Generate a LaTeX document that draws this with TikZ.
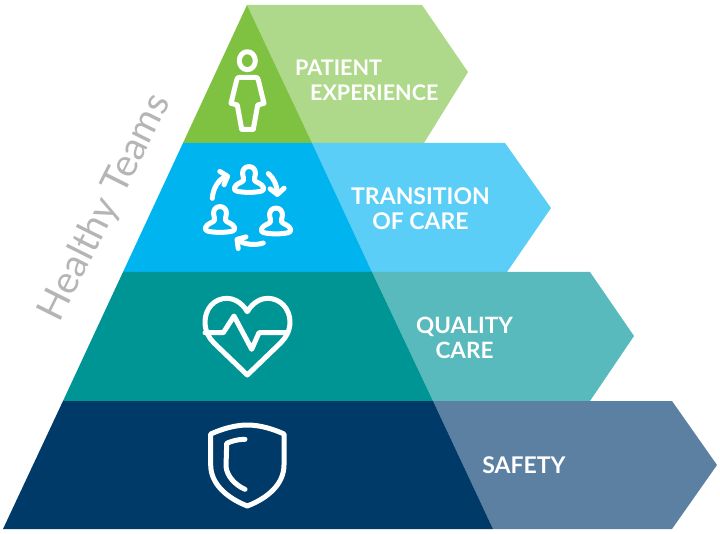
\documentclass[tikz,border=0pt]{standalone}
\usepackage{fontspec}
\setmainfont{Lato}
\usetikzlibrary{arrows.meta}
\definecolor{gA}{HTML}{7FC241}\definecolor{gB}{HTML}{AFD98A}
\definecolor{bA}{HTML}{00B4F0}\definecolor{bB}{HTML}{5ACEF6}
\definecolor{tA}{HTML}{009595}\definecolor{tB}{HTML}{58BABC}
\definecolor{nA}{HTML}{003A68}\definecolor{nB}{HTML}{5B80A2}
\definecolor{labelgray}{HTML}{B4B5B7}
\tikzset{
 lab/.style={text=white,font=\bfseries\fontsize{23}{25}\selectfont,inner sep=0pt},
 icon/.style={draw=white,line width=5pt,line join=round,line cap=round},
 cyc/.style={draw=white,line width=5pt,line cap=round,-{Straight Barb[length=6pt,width=14pt,line cap=round,round]}},
 pics/mate/.style={code={
  \draw[icon] (0,-6.4) .. controls (4,-6.4) and (6.4,-3.5) .. (6.4,0) .. controls (6.4,4) and (4.5,6) .. (5.5,7.5) .. controls (7,9.5) and (13,10.5) .. (14.5,14.5) .. controls (15.5,18) and (13,18.8) .. (0,19.5) .. controls (-13,18.8) and (-15.5,18) .. (-14.5,14.5) .. controls (-13,10.5) and (-7,9.5) .. (-5.5,7.5) .. controls (-4.5,6) and (-6.4,4) .. (-6.4,0) .. controls (-6.4,-3.5) and (-4,-6.4) .. (0,-6.4) -- cycle;
 }}
}
\begin{document}
\begin{tikzpicture}[x=1pt,y=-1pt]
\useasboundingbox (0,0) rectangle (720,534);
% chevrons
\fill[gB] (247,5) -- (422,5) -- (468,72) -- (424,143) -- (312,143) -- cycle;
\fill[bB] (312,143) -- (505,143) -- (551,208) -- (507,272) -- (372,272) -- cycle;
\fill[tB] (372,272) -- (590,272) -- (634,336) -- (590,401) -- (433,401) -- cycle;
\fill[nB] (433,401) -- (672,401) -- (717,465) -- (672,529) -- (493,529) -- cycle;
% pyramid
\fill[gA] (247,5) -- (312,143) -- (183,143) -- cycle;
\fill[bA] (183,143) -- (312,143) -- (372,272) -- (123,272) -- cycle;
\fill[tA] (123,272) -- (372,272) -- (433,401) -- (63,401) -- cycle;
\fill[nA] (63,401) -- (433,401) -- (493,529) -- (3,529) -- cycle;
% labels
\node[lab,font=\bfseries\fontsize{21.5}{25}\selectfont,align=left,anchor=west] (patient) at (295,80) {PATIENT\\\hspace*{15pt}EXPERIENCE};
\node[lab,align=center] (transition) at (420.5,209) {TRANSITION\\OF CARE};
\node[lab,font=\bfseries\fontsize{22.5}{25}\selectfont,align=center] (quality) at (464.5,337.5) {QUALITY\\CARE};
\node[lab] (safety) at (524,465.5) {SAFETY};
\node[text=labelgray,rotate=63.5,font=\fontsize{38.5}{40}\selectfont,inner sep=0pt] (teams) at (105.5,208) {Healthy Teams};
% person
\draw[icon] (247.3,60.7) ellipse (8 and 9);
\draw[icon] (240,77.3) -- (255,77.3) .. controls (257,77.3) and (258,78) .. (258.3,80) -- (264,103.3) -- (257.7,105) -- (253.3,129.3) -- (241.7,129.3) -- (237.3,105) -- (231,103.3) -- (236.7,80) .. controls (237,78) and (238,77.3) .. (240,77.3) -- cycle;
% team
\pic at (249,173) {mate};
\pic at (220,213) {mate};
\pic at (276,214.5) {mate};
\draw[cyc] (268.3,173.5) .. controls (274,178) and (277,186) .. (277.5,197);
\draw[cyc] (212.3,198.3) .. controls (213,188) and (219,179) .. (230,175.5);
\draw[cyc] (263.3,243) .. controls (254,246) and (244,244) .. (235,238);
% heart
\draw[icon] (247.3,311.7) .. controls (241,301) and (232,298.3) .. (227,298.3) .. controls (214,298.3) and (205,309) .. (205,322) .. controls (205,331) and (209,338) .. (214,343) -- (247.3,375) -- (280.5,343) .. controls (285.5,338) and (290,331) .. (290,322) .. controls (290,309) and (280.5,298.3) .. (267.5,298.3) .. controls (262.5,298.3) and (253.5,301) .. (247.3,311.7) -- cycle;
\draw[icon] (205,332.7) -- (223.3,332.7) -- (234,316) -- (251.7,349.3) -- (259,332.7) -- (286.7,332.7);
% shield
\draw[icon] (210.7,434) .. controls (222,429) and (235,425) .. (247.3,425) .. controls (260,425) and (273,429) .. (284,434) -- (284,465) .. controls (284,484) and (268,498) .. (247.3,506) .. controls (227,498) and (210.7,484) .. (210.7,465) -- cycle;
\draw[icon] (245,439.3) .. controls (238,439.3) and (232,441) .. (226.7,443.3) -- (226,466.7) .. controls (227,476) and (235,485) .. (245,489.3);
\end{tikzpicture}
\end{document}
